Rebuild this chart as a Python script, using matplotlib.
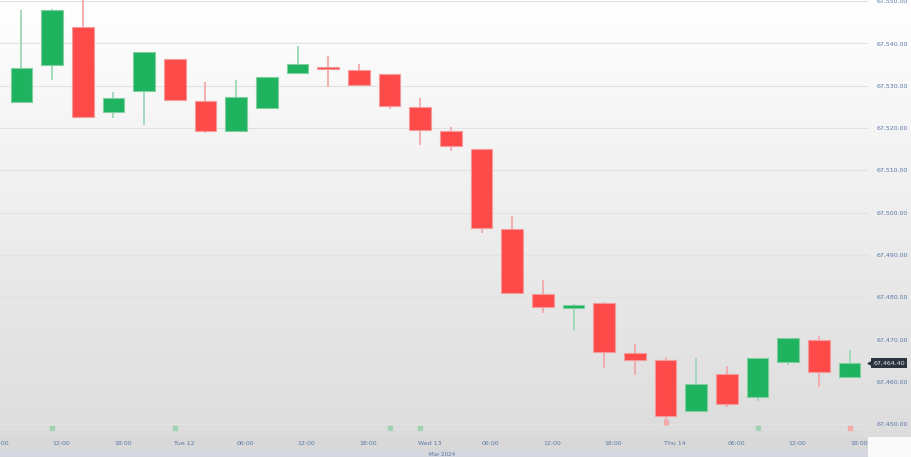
import numpy as np
import matplotlib
matplotlib.use('Agg')
import matplotlib.pyplot as plt
from matplotlib.transforms import blended_transform_factory

# ── data ──
opens = [67526.1, 67534.9, 67543.9, 67523.8, 67528.7, 67536.3, 67526.4, 67519.3,
         67524.7, 67533.0, 67534.2, 67533.7, 67532.7, 67524.9, 67519.3, 67515.0,
         67496.1, 67480.7, 67477.4, 67478.6, 67466.8, 67465.1, 67453.1, 67461.8,
         67456.4, 67464.7, 67469.9, 67461.1]
highs = [67547.9, 67548.1, 67550.2, 67528.5, 67537.9, 67536.3, 67530.9, 67531.3,
         67532.0, 67539.4, 67537.0, 67535.1, 67532.7, 67527.1, 67520.2, 67515.0,
         67499.2, 67484.0, 67478.4, 67478.8, 67468.9, 67465.8, 67465.6, 67463.7,
         67465.6, 67470.3, 67470.8, 67467.5]
lows = [67525.9, 67531.3, 67522.6, 67522.3, 67520.7, 67526.6, 67518.8, 67519.3,
        67524.7, 67533.0, 67529.7, 67530.1, 67524.5, 67516.0, 67514.5, 67495.2,
        67481.0, 67476.2, 67472.2, 67463.2, 67461.6, 67449.5, 67453.1, 67454.0,
        67455.4, 67464.0, 67458.8, 67461.1]
closes = [67534.2, 67547.9, 67522.6, 67527.1, 67537.9, 67526.6, 67519.3, 67527.3,
          67532.0, 67535.1, 67534.0, 67530.1, 67525.2, 67519.5, 67515.7, 67496.3,
          67481.0, 67477.7, 67478.1, 67467.0, 67465.1, 67451.9, 67459.5, 67454.7,
          67465.6, 67470.3, 67462.3, 67464.4]

price_ticks = [67550, 67540, 67530, 67520, 67510, 67500, 67490, 67480, 67470, 67460, 67450]
time_tick_pos = [-0.7, 1.3, 3.3, 5.3, 7.3, 9.3, 11.3, 13.3, 15.3, 17.3, 19.3, 21.3, 23.3, 25.3, 27.3]
time_labels = ['06:00', '12:00', '18:00', 'Tue 12', '06:00', '12:00', '18:00', 'Wed 13',
               '06:00', '12:00', '18:00', 'Thu 14', '06:00', '12:00', '18:00']
buy_marks = [1, 5, 12, 13, 24]
sell_marks = [21, 27]

UP = '#1fb25f'
DOWN = '#ff4a4a'

W, H = 911, 457
fig = plt.figure(figsize=(W / 100, H / 100), dpi=100)

# background gradient
bg = fig.add_axes([0, 0, 1, 1], zorder=-1)
grad = np.linspace(1.0, 0.865, 437)
img = np.ones((H, W, 3))
img[:437, :, :] = grad[:, None, None]
img[437:450, :, :] = 0.85
img[450:, :, :] = np.array([0.835, 0.847, 0.87])
img[437:, 868:, :] = 0.98
bg.imshow(img, aspect='auto', extent=(0, W, H, 0))
bg.set_axis_off()

ax = fig.add_axes([0, (H - 437) / H, 868 / W, 437 / H])
ax.set_facecolor('none')

x = np.arange(len(opens))
o = np.array(opens)
c = np.array(closes)
hi = np.array(highs)
lo = np.array(lows)
up = c >= o
cols = np.where(up, UP, DOWN)
wick_cols = np.where(up, '#9fd6b6', '#f2a9a9')

ax.vlines(x, lo, hi, colors=wick_cols, linewidth=1.3, zorder=2)
body_bot = np.minimum(o, c)
body_h = np.maximum(np.abs(c - o), 0.35)
ax.bar(x, body_h, bottom=body_bot, width=0.71, color=cols,
       edgecolor=np.where(up, '#7fcf9f', '#f59a9a'), linewidth=0.8, zorder=3)

# markers at the bottom strip
trans = blended_transform_factory(ax.transData, ax.transAxes)
ax.scatter(buy_marks, [0.02] * len(buy_marks), marker='s', s=10,
           color='#9fd4b2', transform=trans, zorder=4, clip_on=False)
ax.scatter(sell_marks[:1], [0.035], marker='s', s=10, color='#f2aaaa',
           transform=trans, zorder=4, clip_on=False)
ax.scatter(sell_marks[1:], [0.02], marker='s', s=10, color='#f2aaaa',
           transform=trans, zorder=4, clip_on=False)

ax.set_xlim(-0.55, 27.6)
ax.set_ylim(67446.93, 67550.24)

ax.yaxis.tick_right()
ax.set_yticks(price_ticks)
ax.set_yticklabels([f'{p:,.2f}' for p in price_ticks], fontsize=4.5, color='#5a78a8')
ax.tick_params(axis='y', length=0, pad=6)
ax.set_xticks(time_tick_pos)
ax.set_xticklabels(time_labels, fontsize=4.5, color='#5a78a8')
ax.tick_params(axis='x', length=0, pad=3)
ax.grid(axis='y', color='#e2e2e2', linewidth=0.8, zorder=0)
for s in ax.spines.values():
    s.set_visible(False)

# date sub-label
ax.text(13.7, -0.035, 'Mar 2024', transform=trans, fontsize=4, color='#5a78a8',
        ha='center', va='top')

# last price tag
ytrans = ax.get_yaxis_transform()
ax.text(1.006, closes[-1], f'{closes[-1]:,.2f}', transform=ytrans, fontsize=4.5,
        color='#dfe6ef', ha='left', va='center', clip_on=False,
        bbox=dict(boxstyle='square,pad=0.35', facecolor='#2c3440', edgecolor='none'))
ax.scatter([1.002], [closes[-1]], marker='<', s=12, color='#2c3440',
           transform=ytrans, clip_on=False, zorder=5)

fig.savefig('out.png', dpi=100)
